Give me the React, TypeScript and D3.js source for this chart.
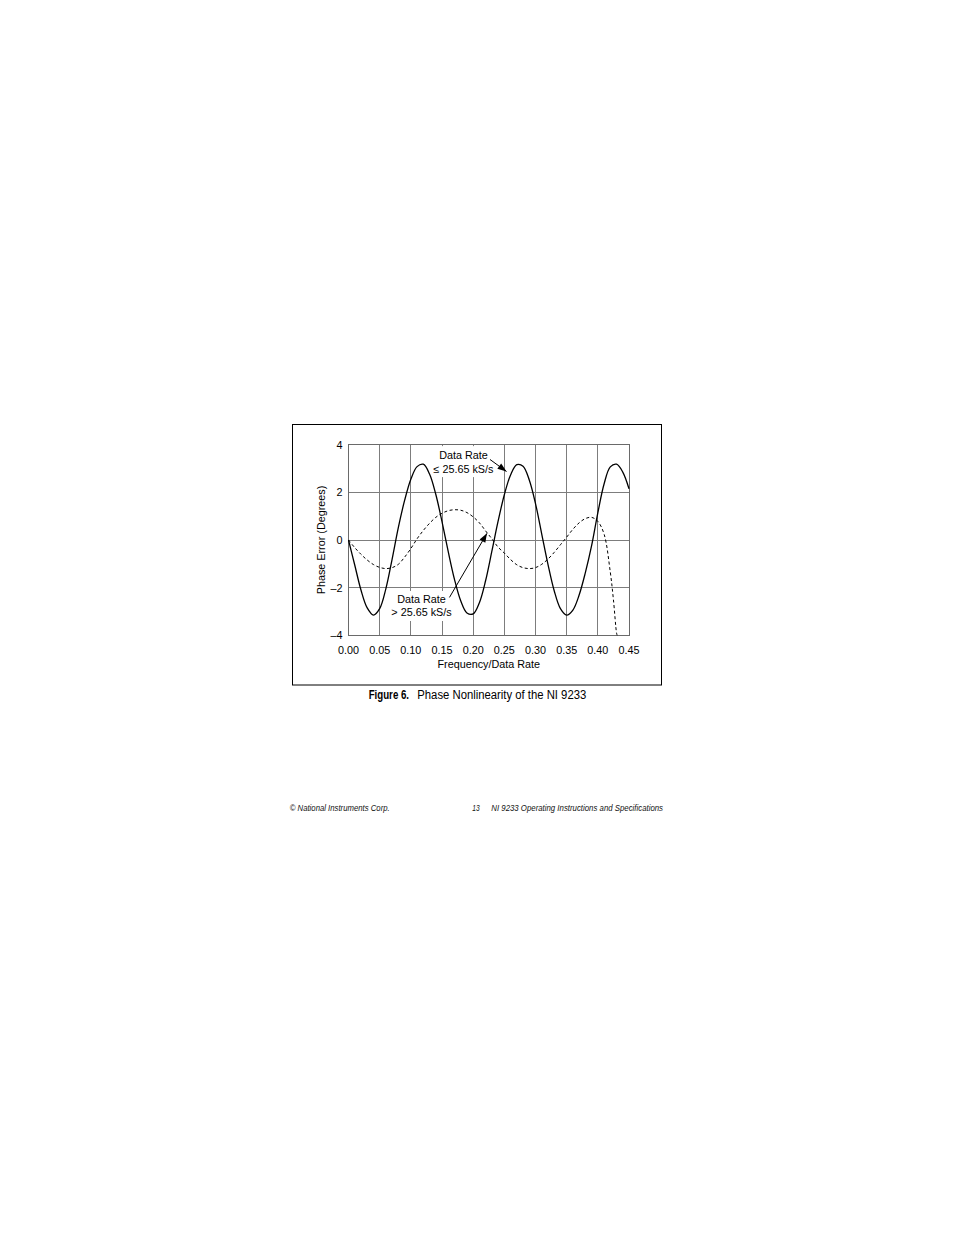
import React from 'react';
import * as d3 from 'd3';

// x ticks / labels
const xTicks = [0, 0.05, 0.1, 0.15, 0.2, 0.25, 0.3, 0.35, 0.4, 0.45];
const xTickLabels = ['0.00', '0.05', '0.10', '0.15', '0.20', '0.25', '0.30', '0.35', '0.40', '0.45'];
const yTicks = [-4, -2, 0, 2, 4];
const yTickLabels = ['–4', '–2', '0', '2', '4'];

// Data Rate <= 25.65 kS/s (solid)
const solidX = [
  0, 0.01, 0.02, 0.03, 0.04, 0.05, 0.06, 0.07, 0.08, 0.09,
  0.1, 0.11, 0.12, 0.13, 0.14, 0.15, 0.16, 0.17, 0.18, 0.19,
  0.2, 0.21, 0.22, 0.23, 0.24, 0.25, 0.26, 0.27, 0.28, 0.29,
  0.3, 0.31, 0.32, 0.33, 0.34, 0.35, 0.36, 0.37, 0.38, 0.39,
  0.4, 0.41, 0.42, 0.43, 0.44, 0.45,
];
const solidY = [
  0.0, -1.05, -2.1, -2.85, -3.15, -2.88, -2.04, -0.8, 0.53, 1.66,
  2.55, 3.08, 3.18, 2.77, 1.92, 0.77, -0.49, -1.65, -2.55, -3.06,
  -3.1, -2.63, -1.7, -0.47, 0.79, 1.9, 2.73, 3.16, 3.1, 2.52,
  1.53, 0.25, -1.02, -2.13, -2.88, -3.15, -2.94, -2.31, -1.37, -0.24,
  1.14, 2.35, 3.07, 3.18, 2.85, 2.15,
];

// Data Rate > 25.65 kS/s (dashed)
const dashedX = [
  0, 0.01, 0.02, 0.03, 0.04, 0.05, 0.06, 0.07, 0.08, 0.09,
  0.1, 0.11, 0.12, 0.13, 0.14, 0.15, 0.16, 0.17, 0.18, 0.19,
  0.2, 0.21, 0.22, 0.23, 0.24, 0.25, 0.26, 0.27, 0.28, 0.29,
  0.3, 0.31, 0.32, 0.33, 0.34, 0.35, 0.36, 0.37, 0.38, 0.39,
  0.4, 0.41, 0.42, 0.425, 0.43, 0.431,
];
const dashedY = [
  0.0, -0.32, -0.6, -0.84, -1.03, -1.15, -1.2, -1.16, -1.02, -0.72,
  -0.36, 0.05, 0.4, 0.7, 0.95, 1.12, 1.23, 1.27, 1.25, 1.15,
  0.97, 0.72, 0.38, 0.05, -0.3, -0.55, -0.82, -1.04, -1.16, -1.2,
  -1.16, -1.02, -0.8, -0.52, -0.2, 0.12, 0.45, 0.72, 0.9, 0.95,
  0.78, 0.25, -1.35, -2.5, -3.9, -4.0,
];

const chartFont = "'Liberation Sans', Arial, Helvetica, sans-serif";

const GRID = '#7d7d7d';

function arrowHead(x1: number, y1: number, x2: number, y2: number, len = 9, half = 3.3) {
  const a = Math.atan2(y2 - y1, x2 - x1);
  const bx = x2 - len * Math.cos(a);
  const by = y2 - len * Math.sin(a);
  const px = -Math.sin(a) * half;
  const py = Math.cos(a) * half;
  return `${x2},${y2} ${bx + px},${by + py} ${bx - px},${by - py}`;
}

const App: React.FC = () => {
  const width = 954;
  const height = 1235;

  const x = d3.scaleLinear().domain([0, 0.45]).range([348.5, 629]);
  const y = d3.scaleLinear().domain([-4, 4]).range([635.3, 444.7]);

  const line = d3
    .line<[number, number]>()
    .x((d) => x(d[0]))
    .y((d) => y(d[1]))
    .curve(d3.curveCatmullRom.alpha(0.5));

  const solid = solidX.map((v, i) => [v, solidY[i]] as [number, number]);
  const dashed = dashedX.map((v, i) => [v, dashedY[i]] as [number, number]);

  // annotation anchors, in data units
  const up = { cx: 0.1845, y1: 3.4, y2: 2.825, from: [0.227, 3.38], to: [0.2535, 2.875], box: [0.1324, 0.2351, 3.94, 2.64] };
  const lo = { cx: 0.1171, y1: -2.636, y2: -3.19, from: [0.162, -2.41], to: [0.2222, 0.28], box: [0.0666, 0.1693, -2.14, -3.4] };

  const [x0, x1] = x.range();
  const [yb, yt] = y.range();

  return (
    <svg width={width} height={height} style={{ position: 'absolute', left: 0, top: 0 }}>
      <rect x={0} y={0} width={width} height={height} fill="#fff" />
      {/* outer frame */}
      <rect x={292.5} y={424.5} width={369} height={260.5} fill="none" stroke="#000" strokeWidth={1} />

      {/* grid */}
      <g stroke={GRID} strokeWidth={1} shapeRendering="crispEdges">
        {xTicks.slice(1, -1).map((t) => (
          <line key={`vx${t}`} x1={x(t)} x2={x(t)} y1={yt} y2={yb} />
        ))}
        {yTicks.slice(1, -1).map((t) => (
          <line key={`hy${t}`} x1={x0} x2={x1} y1={y(t)} y2={y(t)} />
        ))}
        <rect x={x0} y={yt} width={x1 - x0} height={yb - yt} fill="none" stroke="#6a6a6a" />
      </g>

      {/* label backgrounds */}
      {[up, lo].map((a, i) => (
        <rect
          key={`bg${i}`}
          x={x(a.box[0])}
          y={y(a.box[2])}
          width={x(a.box[1]) - x(a.box[0])}
          height={y(a.box[3]) - y(a.box[2])}
          fill="#fff"
        />
      ))}

      {/* series */}
      <path d={line(dashed) ?? ''} fill="none" stroke="#000" strokeWidth={1} strokeDasharray="3,2.5" />
      <path d={line(solid) ?? ''} fill="none" stroke="#000" strokeWidth={1.3} />

      {/* tick labels */}
      <g fontFamily={chartFont} fontSize={10.8} fill="#000">
        {yTicks.map((t, i) => (
          <text key={`yl${t}`} x={x0 - 6} y={y(t)} dy="0.36em" textAnchor="end">
            {yTickLabels[i]}
          </text>
        ))}
        {xTicks.map((t, i) => (
          <text key={`xl${t}`} x={x(t)} y={yb + 18.2} textAnchor="middle">
            {xTickLabels[i]}
          </text>
        ))}
        <text x={(x0 + x1) / 2} y={668} textAnchor="middle">
          Frequency/Data Rate
        </text>
        <text transform={`translate(324.5,${y(0)}) rotate(-90)`} textAnchor="middle">
          Phase Error (Degrees)
        </text>

        {/* annotations */}
        <text x={x(up.cx)} y={y(up.y1)} textAnchor="middle">Data Rate</text>
        <text x={x(up.cx)} y={y(up.y2)} textAnchor="middle">≤ 25.65 kS/s</text>
        <text x={x(lo.cx)} y={y(lo.y1)} textAnchor="middle">Data Rate</text>
        <text x={x(lo.cx)} y={y(lo.y2)} textAnchor="middle">&gt; 25.65 kS/s</text>
      </g>

      {[up, lo].map((a, i) => {
        const fx = x(a.from[0]);
        const fy = y(a.from[1]);
        const tx = x(a.to[0]);
        const ty = y(a.to[1]);
        return (
          <g key={`ar${i}`}>
            <line x1={fx} y1={fy} x2={tx} y2={ty} stroke="#000" strokeWidth={1} />
            <polygon points={arrowHead(fx, fy, tx, ty)} fill="#000" />
          </g>
        );
      })}

      {/* caption: condensed by horizontal scale */}
      <g fontFamily={chartFont} fontSize={12.5} fill="#000">
        <text transform="translate(368.7,698.5) scale(0.775,1)" fontWeight="bold">
          Figure 6.
        </text>
        <text transform="translate(417.3,698.5) scale(0.905,1)">
          Phase Nonlinearity of the NI 9233
        </text>
      </g>

      {/* footer */}
      <g fontFamily={chartFont} fontSize={8.8} fontStyle="italic" fill="#111">
        <text x={289.7} y={811.3} textLength={100} lengthAdjust="spacingAndGlyphs">© National Instruments Corp.</text>
        <text x={472.3} y={811.3} textLength={7.4} lengthAdjust="spacingAndGlyphs">13</text>
        <text x={491.3} y={811.3} textLength={171.7} lengthAdjust="spacingAndGlyphs">
          NI 9233 Operating Instructions and Specifications
        </text>
      </g>
    </svg>
  );
};

export default App;
